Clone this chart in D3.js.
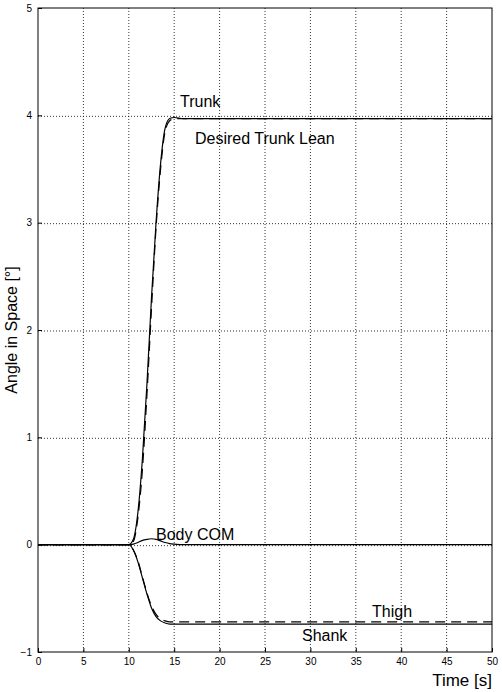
<!DOCTYPE html>
<html><head><meta charset="utf-8">
<script src="https://cdn.jsdelivr.net/npm/d3@7"></script>
<style>body{margin:0;background:#fff}text{font-family:"Liberation Sans",Arial,sans-serif}</style>
</head><body><div id="chart"></div>
<script>
const xTicks = [0,5,10,15,20,25,30,35,40,45,50];
const yTicks = [-1,0,1,2,3,4,5];
const time = [0,10,10.5,11,11.5,12,12.5,13,13.5,14,14.5,15,16,50];
const trunk = [0,0,0.05,0.3,0.8,1.5,2.3,3.0,3.55,3.88,3.97,3.98,3.97,3.97];
const desired = [0,0,0.03,0.25,0.7,1.4,2.2,2.95,3.5,3.85,3.95,3.97,3.97,3.97];
const bodyCom = [0,0,0.005,0.02,0.04,0.05,0.055,0.05,0.035,0.02,0.01,0.005,0,0];
const thigh = [0,0,-0.05,-0.15,-0.3,-0.45,-0.57,-0.65,-0.69,-0.71,-0.72,-0.72,-0.72,-0.72];
const shank = [0,0,-0.05,-0.16,-0.31,-0.46,-0.59,-0.67,-0.71,-0.73,-0.74,-0.74,-0.74,-0.74];

const W = 502, H = 692, m = {l: 38, r: 10, t: 8, b: 40};
const svg = d3.select("#chart").append("svg").attr("width", W).attr("height", H);
const x = d3.scaleLinear().domain([0,50]).range([m.l, W-m.r]);
const y = d3.scaleLinear().domain([-1,5]).range([H-m.b, m.t]);

const grid = svg.append("g").style("stroke", "#000").style("stroke-width", 0.8).style("stroke-dasharray", "1,2");
grid.selectAll(".gx").data(xTicks.slice(1,-1)).join("line").attr("class", "gx")
    .attr("x1", d=>x(d)).attr("x2", d=>x(d)).attr("y1", m.t).attr("y2", H-m.b);
grid.selectAll(".gy").data(yTicks.slice(1,-1)).join("line").attr("class", "gy")
    .attr("x1", m.l).attr("x2", W-m.r).attr("y1", d=>y(d)+1).attr("y2", d=>y(d)+1);

svg.append("rect").attr("x", m.l).attr("y", m.t).attr("width", W-m.l-m.r).attr("height", H-m.t-m.b)
    .style("fill", "none").style("stroke", "#000");

svg.append("g").attr("transform", `translate(0,${H-m.b})`)
    .call(d3.axisBottom(x).tickValues(xTicks).tickFormat(d3.format("d")).tickSize(-4).tickPadding(6))
    .call(g=>g.select(".domain").remove())
    .selectAll("text").style("font-size", "10px");
svg.append("g").attr("transform", `translate(${m.l},0)`)
    .call(d3.axisLeft(y).tickValues(yTicks).tickFormat(d3.format("d")).tickSize(-4).tickPadding(6))
    .call(g=>g.select(".domain").remove())
    .selectAll("text").style("font-size", "10px");

const line = v => d3.line().x((d,i)=>x(time[i])).y(d=>y(d)).curve(d3.curveMonotoneX)(v);
const series = [
    {v: bodyCom, dash: null}, {v: thigh, dash: "10,6"}, {v: shank, dash: null},
    {v: trunk, dash: null}, {v: desired, dash: "10,6"}];
svg.selectAll(".s").data(series).join("path").attr("class", "s")
    .attr("d", d=>line(d.v)).style("fill", "none").style("stroke", "#000")
    .style("stroke-width", 1.2).style("stroke-dasharray", d=>d.dash);

const labels = [["Trunk",180,107],["Desired Trunk Lean",195,144],["Body COM",156,540],["Thigh",372,617],["Shank",302,641]];
svg.selectAll(".lab").data(labels).join("text").attr("class", "lab")
    .attr("x", d=>d[1]).attr("y", d=>d[2]).text(d=>d[0]).style("font-size", "16px");

svg.append("text").attr("x", W-m.r).attr("y", 686).attr("text-anchor", "end").style("font-size", "17px").text("Time [s]");
svg.append("text").attr("transform", `translate(17,${(m.t+H-m.b)/2}) rotate(-90)`)
    .attr("text-anchor", "middle").style("font-size", "16px").text("Angle in Space [°]");
</script></body></html>
